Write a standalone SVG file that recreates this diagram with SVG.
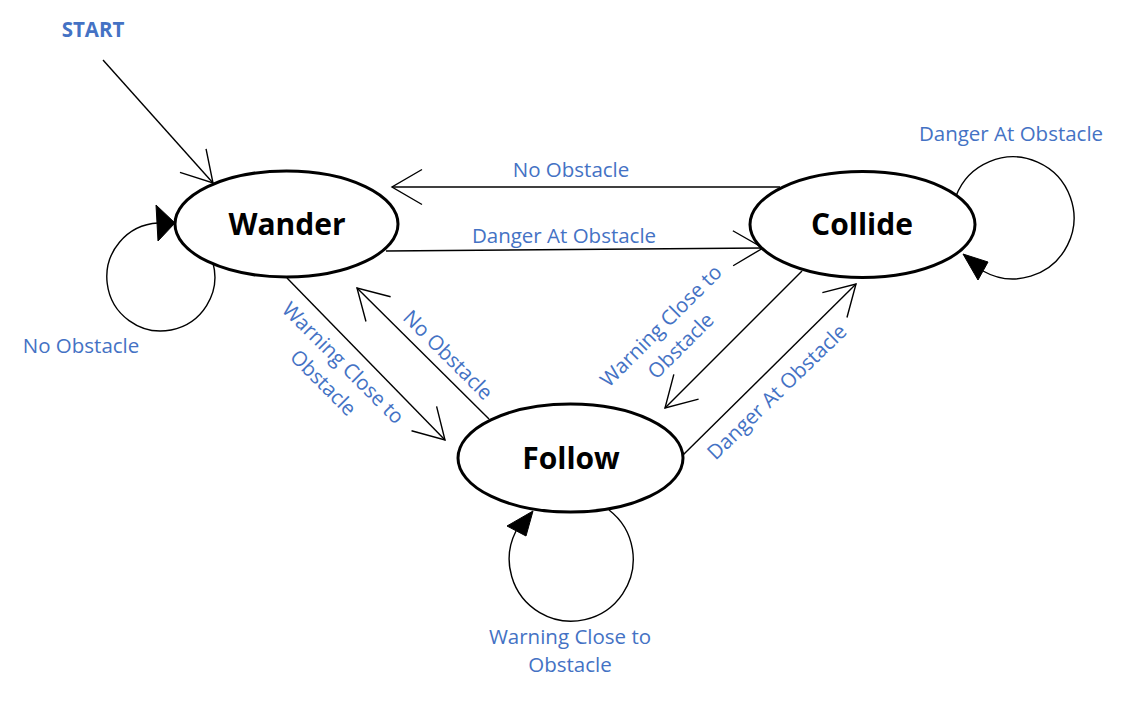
<svg xmlns="http://www.w3.org/2000/svg" width="1127" height="702" viewBox="0 0 1127 702">
<style>
.node{fill:#fff;stroke:#000;stroke-width:3}
.nl{font-family:"Open Sans","Liberation Sans",sans-serif;font-weight:bold;font-size:30px;fill:#000;text-anchor:middle}
.lbl{font-family:"Open Sans","Liberation Sans",sans-serif;font-size:20.5px;fill:#4472C4;text-anchor:middle}
.edge{fill:none;stroke:#000;stroke-width:1.4}
.head{fill:#000;stroke:#000;stroke-width:1}
</style>
<defs>
<marker id="open" markerUnits="userSpaceOnUse" orient="auto" refX="0" refY="0" markerWidth="40" markerHeight="40" overflow="visible">
<path d="M-30,-17.5 L0,0 L-30,17.5" fill="none" stroke="#000" stroke-width="1.4"/>
</marker>
</defs>
<g id="connectors">
<line class="edge" x1="103" y1="60" x2="213" y2="183" marker-end="url(#open)"/>
<line class="edge" x1="780" y1="187" x2="392" y2="187" marker-end="url(#open)"/>
<line class="edge" x1="386" y1="251" x2="763" y2="248" marker-end="url(#open)"/>
<line class="edge" x1="287" y1="278" x2="445" y2="440" marker-end="url(#open)"/>
<line class="edge" x1="489" y1="419" x2="357" y2="288" marker-end="url(#open)"/>
<line class="edge" x1="802" y1="271" x2="665" y2="408" marker-end="url(#open)"/>
<line class="edge" x1="683" y1="455" x2="856" y2="284" marker-end="url(#open)"/>
<path class="edge" d="M213,263 A54,54 0 1 1 158,223"/>
<polygon class="head" points="175,223 156,205 158,241"/>
<path class="edge" d="M956,196 A61,61 0 1 1 983,271"/>
<polygon class="head" points="963,254 988,262 978,280"/>
<path class="edge" d="M609,510 A62,62 0 1 1 516,531"/>
<polygon class="head" points="533,511 507,526 526,536"/>
</g>
<g id="labels">
<text class="lbl" x="93" y="37" style="font-weight:bold">START</text>
<text class="lbl" x="81" y="353">No Obstacle</text>
<text class="lbl" x="571" y="177">No Obstacle</text>
<text class="lbl" x="564" y="243">Danger At Obstacle</text>
<text class="lbl" x="1011" y="141">Danger At Obstacle</text>
<text class="lbl" x="570" y="644">Warning Close to</text>
<text class="lbl" x="570" y="672">Obstacle</text>
<g transform="translate(343,363) rotate(45)"><text class="lbl" x="0" y="7">Warning Close to</text><text class="lbl" x="0" y="35">Obstacle</text></g>
<g transform="translate(448,355) rotate(45)"><text class="lbl" x="0" y="7">No Obstacle</text></g>
<g transform="translate(661,326) rotate(-45)"><text class="lbl" x="0" y="7">Warning Close to</text><text class="lbl" x="0" y="35">Obstacle</text></g>
<g transform="translate(777,392) rotate(-44)"><text class="lbl" x="0" y="7">Danger At Obstacle</text></g>
</g>
<g id="wander"><ellipse class="node" cx="286.5" cy="224" rx="111.5" ry="53"/><text class="nl" x="287" y="235">Wander</text></g>
<g id="collide"><ellipse class="node" cx="862.5" cy="224.5" rx="112.5" ry="53"/><text class="nl" x="862" y="235">Collide</text></g>
<g id="follow"><ellipse class="node" cx="570.5" cy="458" rx="112.5" ry="54"/><text class="nl" x="571" y="469">Follow</text></g>
</svg>
